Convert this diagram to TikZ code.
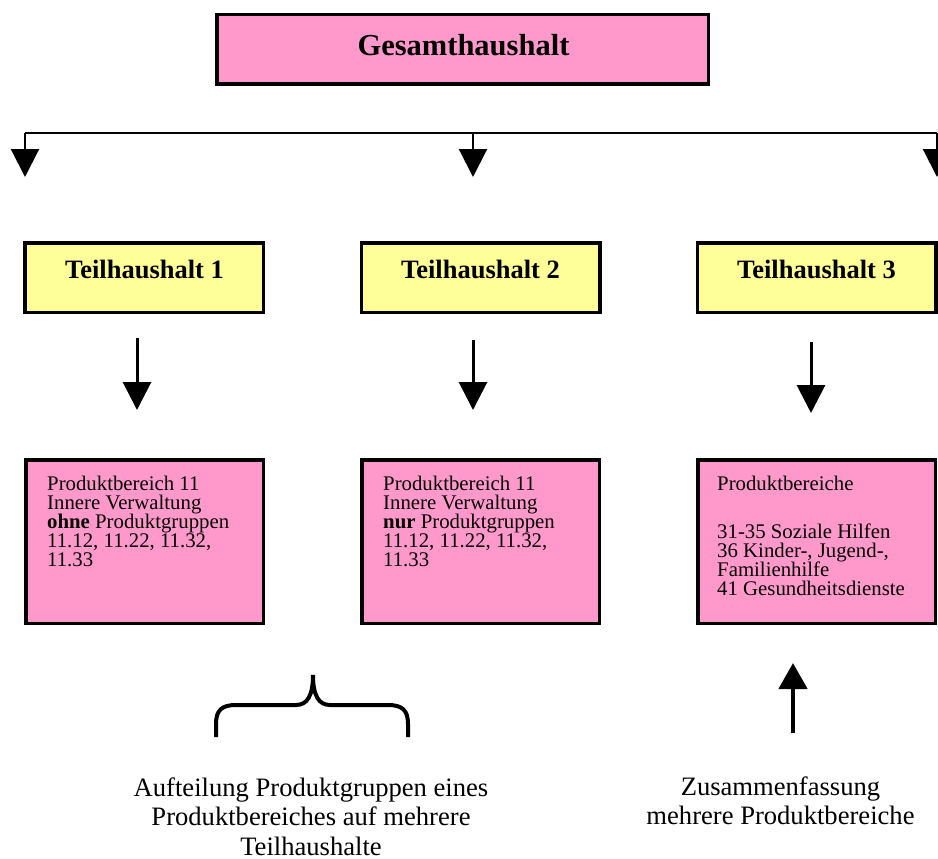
\documentclass[tikz,border=0pt]{standalone}
\usepackage{fontspec}
\setmainfont{Liberation Serif}
\usetikzlibrary{arrows.meta}
\definecolor{boxpink}{HTML}{FF99CC}
\definecolor{boxyellow}{HTML}{FFFF99}
\tikzset{
  pinkbox/.style={draw=black, line width=3.5pt, fill=boxpink, inner sep=0pt},
  yellowbox/.style={draw=black, line width=3.5pt, fill=boxyellow, inner sep=0pt},
  txt/.style={inner sep=0pt, anchor=base},
  txtw/.style={inner sep=0pt, anchor=base west},
  bigtip/.style={-{Triangle[length=28pt,width=28pt]}},
  barline/.style={line width=2.2pt},
  midarrow/.style={line width=3pt, bigtip},
  uparrow/.style={line width=4.6pt, -{Triangle[length=26pt,width=28pt]}},
}
\newcommand{\prodfont}{\fontsize{20.8}{19.2}\selectfont\lineskiplimit=-100pt}
\newcommand{\bottomfont}{\fontsize{26.6}{29.5}\selectfont\lineskiplimit=-100pt}
\begin{document}
\begin{tikzpicture}[x=1pt,y=-1pt]
\clip (0,0) rectangle (938,859);
\fill[white] (0,0) rectangle (938,859);

% top box
\node[pinkbox, minimum width=491.5pt, minimum height=69.5pt] (ges) at (462.5,49.5) {};
\node[txt] (gestxt) at (463.5,56) {\fontsize{30.5}{36}\selectfont\bfseries Gesamthaushalt};

% distribution bar
\coordinate (bl) at (25,133);
\coordinate (bm) at (473,133);
\coordinate (br) at (937,133);
\coordinate (tl) at (25,177);
\coordinate (tm) at (473,177);
\coordinate (tr) at (937,177);
\draw[barline] (bl) -- (br);
\draw[barline, bigtip] (bl) -- (tl);
\draw[barline, bigtip] (bm) -- (tm);
\draw[barline, bigtip] (br) -- (tr);

% Teilhaushalte
\node[yellowbox, minimum width=238.5pt, minimum height=69.5pt] (th1) at (144,277.5) {};
\node[yellowbox, minimum width=238.5pt, minimum height=69.5pt] (th2) at (480.5,277.5) {};
\node[yellowbox, minimum width=238.5pt, minimum height=69.5pt] (th3) at (816.5,277.5) {};
\node[txt] (th1t) at (144.5,278) {\fontsize{26.5}{30}\selectfont\bfseries Teilhaushalt 1};
\node[txt] (th2t) at (480.5,278) {\fontsize{26.5}{30}\selectfont\bfseries Teilhaushalt 2};
\node[txt] (th3t) at (816.5,278) {\fontsize{26.5}{30}\selectfont\bfseries Teilhaushalt 3};

% arrows Teilhaushalt -> Produktbereich
\coordinate (a1s) at (137,338);
\coordinate (a1e) at (137,410);
\coordinate (a2s) at (473,340);
\coordinate (a2e) at (473,410);
\coordinate (a3s) at (811,342);
\coordinate (a3e) at (811,413);
\draw[midarrow] (a1s) -- (a1e);
\draw[midarrow] (a2s) -- (a2e);
\draw[midarrow] (a3s) -- (a3e);

% Produktbereich boxes
\node[pinkbox, minimum width=237.5pt, minimum height=163.5pt] (pb1) at (144.5,541.5) {};
\node[pinkbox, minimum width=237.5pt, minimum height=163.5pt] (pb2) at (480.5,541.5) {};
\node[pinkbox, minimum width=237.5pt, minimum height=163.5pt] (pb3) at (816.5,541.5) {};

\node[txtw] (pb1t) at (47,490) {\parbox[t]{215pt}{\prodfont\raggedright
Produktbereich 11\\
Innere Verwaltung\\
\textbf{ohne} Produktgruppen\\
11.12, 11.22, 11.32,\\
11.33}};
\node[txtw] (pb2t) at (383,490) {\parbox[t]{215pt}{\prodfont\raggedright
Produktbereich 11\\
Innere Verwaltung\\
\textbf{nur} Produktgruppen\\
11.12, 11.22, 11.32,\\
11.33}};
\node[txtw] (pb3t) at (717,490) {\parbox[t]{215pt}{\prodfont\raggedright
Produktbereiche\\[28.8pt]
31-35 Soziale Hilfen\\
36 Kinder-, Jugend-,\\
Familienhilfe\\
41 Gesundheitsdienste}};

% brace
\draw[line width=4pt] (216,737) -- (216,724)
  .. controls (216,710) and (222,705) .. (236,705) -- (296,705)
  .. controls (307,705) and (313,696) .. (313,675)
  .. controls (313,696) and (319,705) .. (330,705) -- (388,705)
  .. controls (402,705) and (408,710) .. (408,724) -- (408,737);

% up arrow
\coordinate (us) at (793,733);
\coordinate (ue) at (793,663);
\draw[uparrow] (us) -- (ue);

% bottom texts
\node[txt] (bt1) at (311,796) {\parbox[t]{400pt}{\bottomfont\centering
Aufteilung Produktgruppen eines\\
Produktbereiches auf mehrere\\
Teilhaushalte}};
\node[txt] (bt2) at (780.5,795) {\parbox[t]{320pt}{\bottomfont\centering
Zusammenfassung\\
mehrere Produktbereiche}};
\end{tikzpicture}
\end{document}
